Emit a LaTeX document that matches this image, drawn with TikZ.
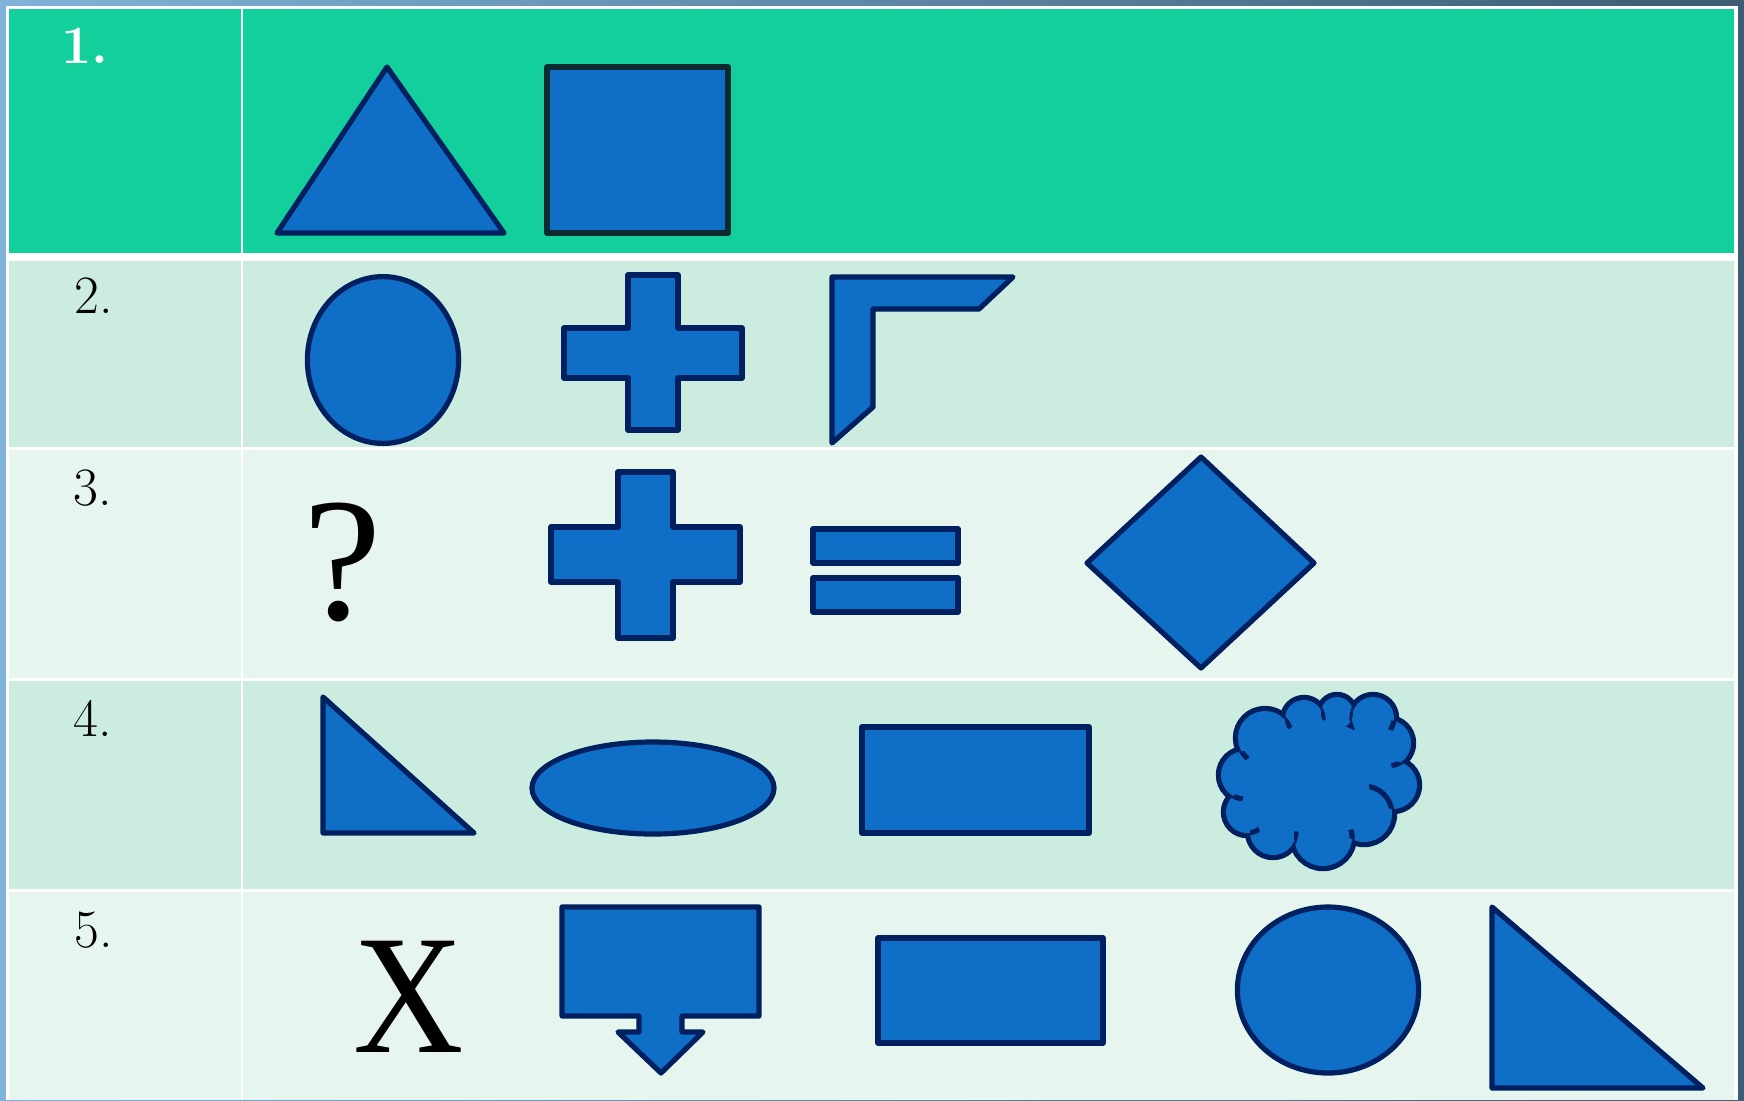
\documentclass[tikz,border=0pt]{standalone}
\usepackage{fontspec}
\newfontfamily\timesfont{Liberation Serif}
\definecolor{bgleft}{HTML}{80B3DA}
\definecolor{bgright}{HTML}{3C5D73}
\definecolor{rowA}{HTML}{12CF9C}
\definecolor{rowB}{HTML}{CBECDE}
\definecolor{rowC}{HTML}{E6F5EE}
\definecolor{shapeblue}{HTML}{0F6FC6}
\definecolor{navy}{HTML}{002060}
\definecolor{sqstroke}{HTML}{0B2B30}
\begin{document}
\begin{tikzpicture}[x=0.5pt,y=-0.5pt,
  shp/.style={fill=shapeblue,draw=navy,line width=2.6pt,line join=round},
  tuck/.style={draw=navy,line width=2.6pt},
  lbl/.style={anchor=base west,inner sep=0pt,font=\fontsize{27}{27}\selectfont}]
\useasboundingbox (0,0) rectangle (1744,1100);
\shade[left color=bgleft,right color=bgright] (0,0) rectangle (1744,1100);
\fill[white] (6,6) rectangle (1738,1100);
% cells
\fill[rowA] (9,9) rectangle (241,253);
\fill[rowA] (243,9) rectangle (1734,253);
\fill[rowB] (9,261) rectangle (241,447);
\fill[rowB] (243,261) rectangle (1734,447);
\fill[rowC] (9,450) rectangle (241,678);
\fill[rowC] (243,450) rectangle (1734,678);
\fill[rowB] (9,681) rectangle (241,889);
\fill[rowB] (243,681) rectangle (1734,889);
\fill[rowC] (9,892) rectangle (241,1100);
\fill[rowC] (243,892) rectangle (1734,1100);
% labels
\node[lbl,text=white,font=\fontsize{27}{27}\selectfont\bfseries] (l1) at (61,63) {1.};
\node[lbl] (l2) at (74,313) {2.};
\node[lbl] (l3) at (73,505) {3.};
\node[lbl] (l4) at (73,736) {4.};
\node[lbl] (l5) at (74,947) {5.};
% row 1
\draw[shp] (387,67) -- (504,233) -- (277,233) -- cycle;
\draw[shp,draw=sqstroke] (547,67) rectangle (728,233);
% row 2
\draw[shp] (383,360) ellipse [x radius=37.8pt,y radius=41.7pt];
\draw[shp] (628,275) -- (678,275) -- (678,328) -- (742,328) -- (742,378) -- (678,378)
  -- (678,430) -- (628,430) -- (628,378) -- (564,378) -- (564,328) -- (628,328) -- cycle;
\draw[shp] (832,277) -- (1013,277) -- (979,309) -- (873,309) -- (873,407) -- (832,443) -- cycle;
% row 3
\node[inner sep=0pt,font=\timesfont\fontsize{88}{88}\selectfont] (q) at (343,562) {?};
\draw[shp] (618,472) -- (673,472) -- (673,527) -- (740,527) -- (740,582) -- (673,582)
  -- (673,638) -- (618,638) -- (618,582) -- (551,582) -- (551,527) -- (618,527) -- cycle;
\draw[shp] (813,529) rectangle (958,563);
\draw[shp] (813,578) rectangle (958,612);
\draw[shp] (1201,457) -- (1314,563) -- (1201,668) -- (1087,563) -- cycle;
% row 4
\draw[shp] (323,697) -- (474,833) -- (323,833) -- cycle;
\draw[shp] (653,788) ellipse [x radius=60.5pt,y radius=23pt];
\draw[shp] (862,727) rectangle (1089,833);
% cloud: union of puffs
\def\puffs{1265/738/27, 1304/719/19, 1337/713/16, 1373/718/21, 1388/743/23, 1393/785/24,
  1364/814/28, 1323/837/29, 1273/832/23, 1247/812/21, 1245/775/24}
\foreach \cx/\cy/\r in \puffs
  \draw[navy,line width=5.2pt] (\cx,\cy) circle[radius=\r*0.5pt];
\foreach \cx/\cy/\r in \puffs
  \fill[shapeblue] (\cx,\cy) circle[radius=\r*0.5pt];
\fill[shapeblue] (1319,780) ellipse[x radius=34pt,y radius=29pt];
\fill[shapeblue] (1362,748) circle[radius=10pt];
\foreach \ax/\ay/\ar/\bx/\by/\br/\ox/\oy/\cr in {
  1265/738/27/1245/775/24/1241.5/751.2/5,
  1265/738/27/1304/719/19/1285/719.9/5,
  1304/719/19/1337/713/16/1321.2/710.8/5,
  1373/718/21/1337/713/16/1353/711.8/5,
  1373/718/21/1388/743/23/1393.7/720.8/5,
  1388/743/23/1393/785/24/1400.6/762.2/5,
  1364/814/28/1393/785/24/1391.5/808.9/20,
  1323/837/29/1364/814/28/1351.9/839.3/5,
  1273/832/23/1323/837/29/1294.2/840.8/5,
  1247/812/21/1273/832/23/1250/832.8/5,
  1245/775/24/1247/812/21/1233.4/796/5}
{
  \begin{scope}
    \clip (\bx,\by) circle[radius=\br*0.5pt];
    \clip (\ox,\oy) circle[radius=\cr pt];
    \draw[tuck] (\ax,\ay) circle[radius=\ar*0.5pt];
  \end{scope}
}
\coordinate (cloudc) at (1319,780);
% row 5
\node[inner sep=0pt,font=\timesfont\fontsize{85}{85}\selectfont] (x) at (409,997) {\scalebox{0.9}[1]{X}};
\draw[shp] (562,907) -- (759,907) -- (759,1016) -- (682,1016) -- (682,1032) -- (703,1032)
  -- (661,1073) -- (618,1032) -- (639,1032) -- (639,1016) -- (562,1016) -- cycle;
\draw[shp] (878,938) rectangle (1103,1043);
\draw[shp] (1328,990) ellipse [x radius=45.3pt,y radius=41.5pt];
\draw[shp] (1492,907) -- (1703,1088) -- (1492,1088) -- cycle;
\end{tikzpicture}
\end{document}
